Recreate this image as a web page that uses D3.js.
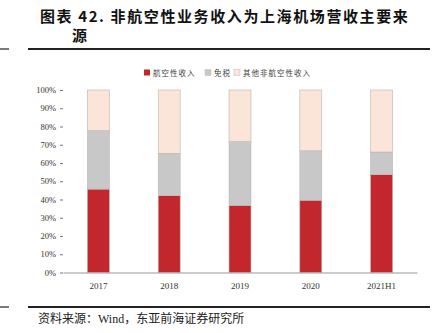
<!DOCTYPE html>
<html><head><meta charset="utf-8">
<script src="https://cdn.jsdelivr.net/npm/d3@7"></script>
<style>body{margin:0;background:#fff}svg{display:block}</style>
</head><body>
<script>
const categories = ["2017","2018","2019","2020","2021H1"];
const seriesNames = ["航空性收入","免税","其他非航空性收入"];
const aero = [0.457, 0.421, 0.368, 0.396, 0.536];
const dutyFree = [0.320, 0.232, 0.349, 0.271, 0.124];
const other = [0.223, 0.347, 0.283, 0.333, 0.340];
const yTicks = [0,0.1,0.2,0.3,0.4,0.5,0.6,0.7,0.8,0.9,1.0];
const colors = ["#C1272D","#C8C8C8","#FBE4D8"];

const W=435,H=333;
const svg=d3.select("body").append("svg").attr("width",W).attr("height",H);
const serif="'Liberation Serif','DejaVu Serif','Noto Sans CJK SC',serif";
const cjk="'Noto Sans CJK SC',sans-serif";

// title
svg.append("text").attr("x",40).attr("y",22).attr("font-family",cjk).attr("font-weight","bold")
  .attr("font-size",15).attr("letter-spacing",1.6).attr("fill","#111")
  .text("图表 42. 非航空性业务收入为上海机场营收主要来");
svg.append("text").attr("x",72).attr("y",41).attr("font-family",cjk).attr("font-weight","bold")
  .attr("font-size",15).attr("fill","#111").text("源");
svg.append("line").attr("x1",0).attr("x2",9).attr("y1",49).attr("y2",49).attr("stroke","#222").attr("stroke-width",1.2);
svg.append("line").attr("x1",28).attr("x2",430).attr("y1",49).attr("y2",49).attr("stroke","#222").attr("stroke-width",2);
svg.append("line").attr("x1",0).attr("x2",9).attr("y1",307).attr("y2",307).attr("stroke","#222").attr("stroke-width",1.2);
svg.append("line").attr("x1",28).attr("x2",430).attr("y1",307).attr("y2",307).attr("stroke","#222").attr("stroke-width",2);
svg.append("text").attr("x",38).attr("y",323).attr("font-family",serif).attr("font-size",12).attr("fill","#222")
  .text("资料来源：Wind，东亚前海证券研究所");

const x=d3.scaleBand().domain(categories).range([63,417]).paddingInner(0.69).paddingOuter(0.345);
const y=d3.scaleLinear().domain([0,1]).range([272.5,90]);

const data=categories.map((c,i)=>({cat:c,[seriesNames[0]]:aero[i],[seriesNames[1]]:dutyFree[i],[seriesNames[2]]:other[i]}));
const stack=d3.stack().keys(seriesNames)(data);
svg.append("g").selectAll("g").data(stack).join("g").attr("fill",(d,i)=>colors[i])
 .selectAll("rect").data(d=>d).join("rect")
 .attr("x",d=>x(d.data.cat)).attr("width",x.bandwidth())
 .attr("y",d=>y(d[1])).attr("height",d=>y(d[0])-y(d[1]))
 .attr("stroke","#bdb5b0").attr("stroke-width",0.6);

// y axis
const ya=svg.append("g").attr("transform","translate(63,0)")
 .call(d3.axisLeft(y).tickValues(yTicks).tickFormat(d3.format(".0%")).tickSize(3).tickPadding(4));
ya.select(".domain").remove();
ya.selectAll("line").attr("stroke","#777");
ya.selectAll("text").attr("font-family",serif).attr("font-size",8.5).attr("fill","#333");

// x axis
const xa=svg.append("g").attr("transform","translate(0,272.5)")
 .call(d3.axisBottom(x).tickSize(0).tickPadding(10));
xa.select(".domain").attr("stroke","#999").attr("stroke-width",1);
xa.selectAll("text").attr("font-family",serif).attr("font-size",9).attr("fill","#333");

// legend
const leg=[{x:144,t:seriesNames[0]},{x:205,t:seriesNames[1]},{x:234,t:seriesNames[2]}];
leg.forEach((l,i)=>{
  svg.append("rect").attr("x",l.x).attr("y",69.5).attr("width",6).attr("height",6).attr("fill",colors[i]).attr("stroke",i>0?"#bbb":"none").attr("stroke-width",0.5);
  svg.append("text").attr("x",l.x+9).attr("y",76).attr("font-family",cjk).attr("font-size",7.5).attr("letter-spacing",1).attr("fill","#444").text(l.t);
});
</script>
</body></html>
